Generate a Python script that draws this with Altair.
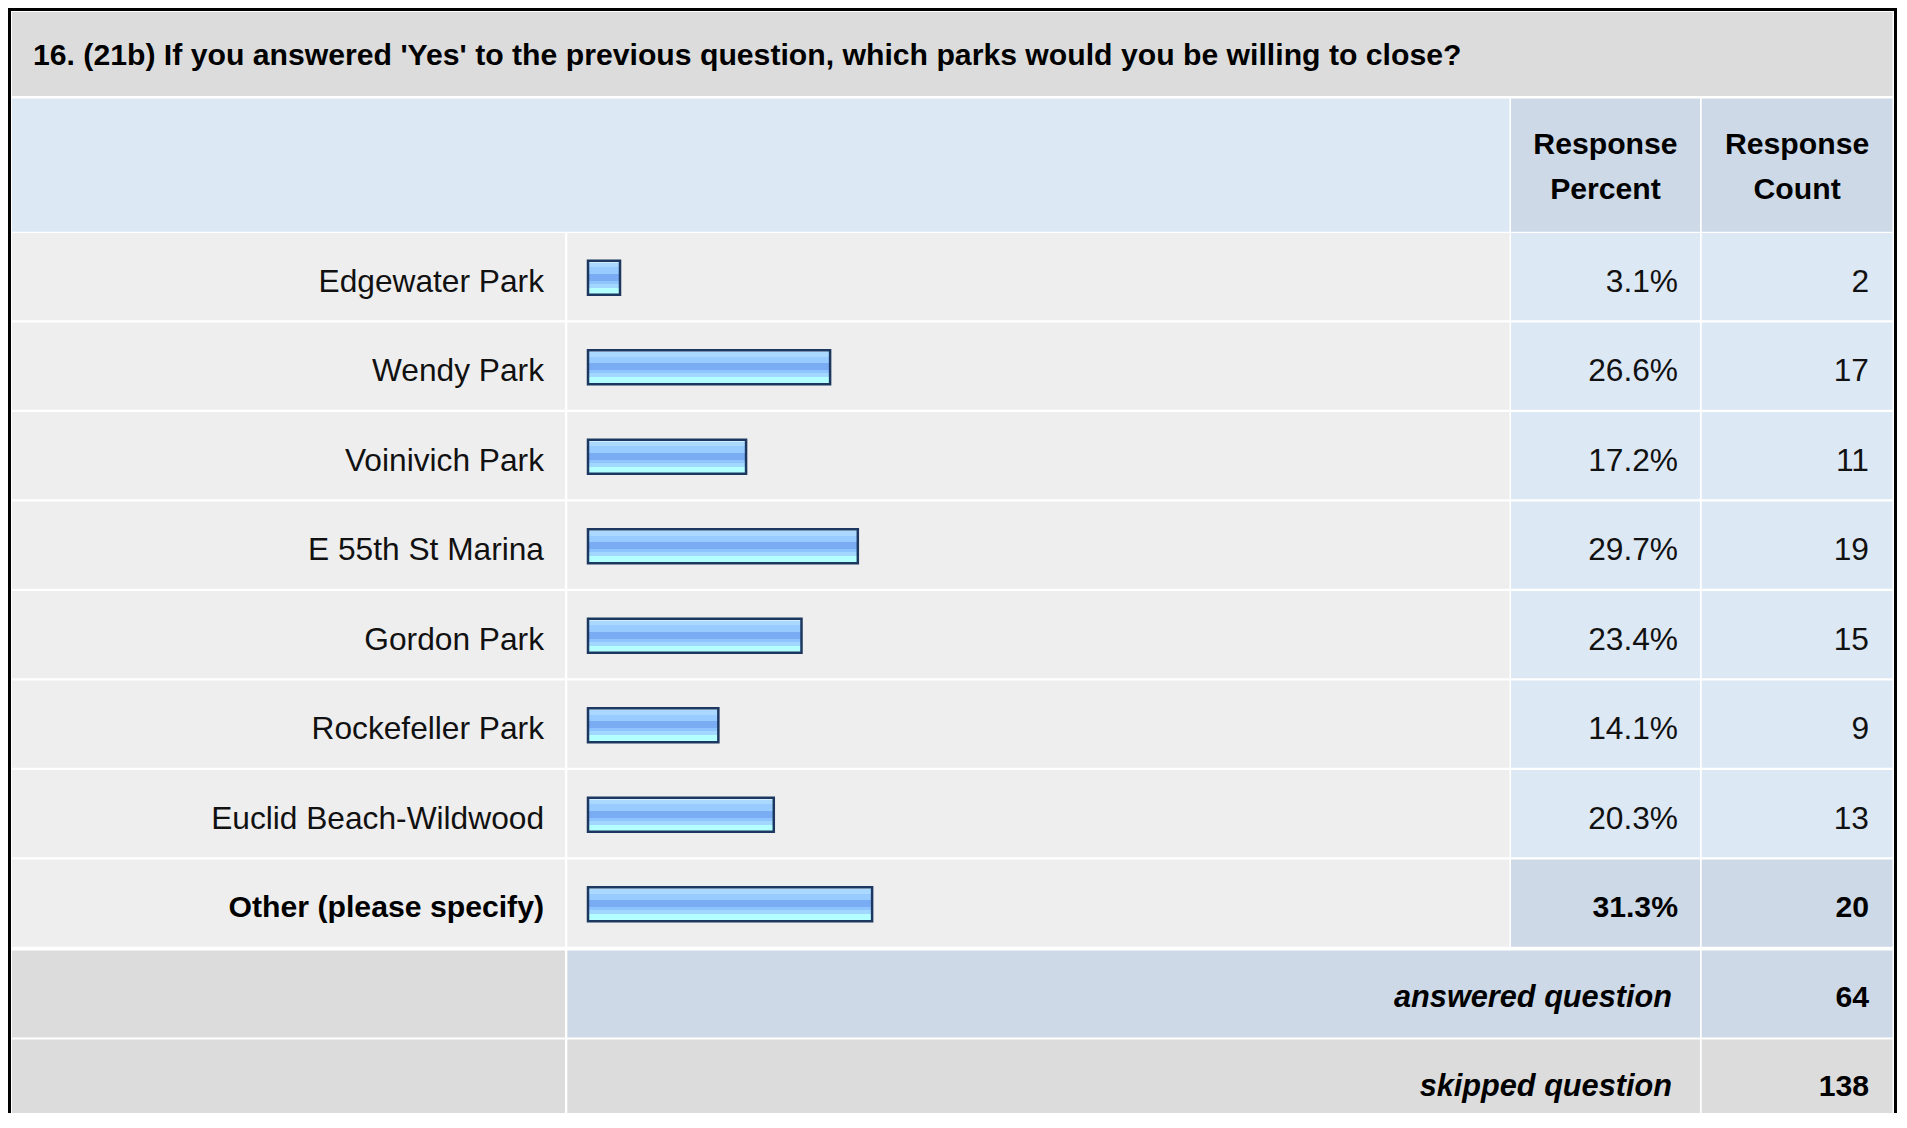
import altair as alt
import pandas as pd

# ---------------- data ----------------
TITLE = "16. (21b) If you answered 'Yes' to the previous question, which parks would you be willing to close?"
HEADERS = ["Response\nPercent", "Response\nCount"]
PARKS = [
    "Edgewater Park",
    "Wendy Park",
    "Voinivich Park",
    "E 55th St Marina",
    "Gordon Park",
    "Rockefeller Park",
    "Euclid Beach-Wildwood",
    "Other (please specify)",
]
PERCENTS = [3.1, 26.6, 17.2, 29.7, 23.4, 14.1, 20.3, 31.3]
COUNTS = [2, 17, 11, 19, 15, 9, 13, 20]
SUMMARY_LABELS = ["answered question", "skipped question"]
SUMMARY_VALUES = [64, 138]

# ---------------- layout (page pixels) ----------------
OFF = 8
W, H = 1889, 1105
FONT = "Liberation Sans, Arial, sans-serif"


def P(v):
    return v - OFF


COLS = [(12, 565), (567.3, 1509.5), (1511, 1700), (1701.7, 1892.5)]
TITLE_Y = (12, 96)
HEAD_Y = (98.5, 231.7)
ROW0, STEP, ROWH = 233, 89.5, 87.3
SUM0, SSTEP, SROWH = 950.5, 89, 87

GREY = "#dcdcdc"
LIGHT = "#eeeeee"
PALEBLUE = "#dde8f5"
MIDBLUE = "#cdd9e6"

REG = 31.7   # regular text size
BOLD = 30.2  # bold text size
TXT_DY = 4

cells = []


def add(x0, x1, y0, y1, c):
    cells.append({"x0": x0, "x1": x1, "y0": y0, "y1": y1, "fill": c})


add(8, 1897, 8, 1113, "#000000")
add(11, 1894, 11, 1113, "#ffffff")
add(COLS[0][0], COLS[3][1], TITLE_Y[0], TITLE_Y[1], GREY)
add(COLS[0][0], COLS[1][1], HEAD_Y[0], HEAD_Y[1], PALEBLUE)
add(COLS[2][0], COLS[2][1], HEAD_Y[0], HEAD_Y[1], MIDBLUE)
add(COLS[3][0], COLS[3][1], HEAD_Y[0], HEAD_Y[1], MIDBLUE)
for i in range(len(PARKS)):
    y0 = ROW0 + i * STEP
    y1 = y0 + ROWH
    last = i == len(PARKS) - 1
    add(COLS[0][0], COLS[0][1], y0, y1, LIGHT)
    add(COLS[1][0], COLS[1][1], y0, y1, LIGHT)
    add(COLS[2][0], COLS[2][1], y0, y1, MIDBLUE if last else PALEBLUE)
    add(COLS[3][0], COLS[3][1], y0, y1, MIDBLUE if last else PALEBLUE)
for j in range(len(SUMMARY_LABELS)):
    y0 = SUM0 + j * SSTEP
    y1 = y0 + SROWH if j == 0 else 1113
    c = MIDBLUE if j == 0 else GREY
    add(COLS[0][0], COLS[0][1], y0, y1, GREY)
    add(COLS[1][0], COLS[2][1], y0, y1, c)
    add(COLS[3][0], COLS[3][1], y0, y1, c)

cells_df = pd.DataFrame(cells)

xpage = alt.Scale(domain=[OFF, OFF + W], range=[0, W], nice=False, zero=False)
ypage = alt.Scale(domain=[OFF, OFF + H], range=[0, H], nice=False, zero=False)

cell_layer = alt.Chart(cells_df).mark_rect(strokeWidth=0).encode(
    x=alt.X("x0:Q", scale=xpage, axis=None),
    x2="x1:Q",
    y=alt.Y("y0:Q", scale=ypage, axis=None),
    y2="y1:Q",
    color=alt.Color("fill:N", scale=None, legend=None),
)

# title
title_layer = alt.Chart(pd.DataFrame({"t": [TITLE]})).mark_text(
    align="left", baseline="middle", fontSize=BOLD, fontWeight="bold", font=FONT, color="#000000"
).encode(x=alt.value(P(33)), y=alt.value(P(56)), text="t:N")

# headers (two lines each)
head_df = pd.DataFrame({"h": HEADERS, "cx": [(COLS[2][0] + COLS[2][1]) / 2, (COLS[3][0] + COLS[3][1]) / 2]})
head_layer = alt.Chart(head_df).mark_text(
    align="center", baseline="middle", fontSize=BOLD, fontWeight="bold", font=FONT,
    color="#000000", lineBreak="\n", lineHeight=45
).encode(
    x=alt.X("cx:Q", scale=xpage, axis=None),
    y=alt.value(P(145)),
    text="h:N",
)

# park rows
parks_df = pd.DataFrame({"park": PARKS, "pct": PERCENTS, "count": COUNTS})
yband = alt.Scale(domain=PARKS, range=[P(233), P(949)], paddingInner=0.62, paddingOuter=0.31)
Y = alt.Y("park:N", scale=yband, axis=None, sort=PARKS)

grad = alt.Gradient(
    gradient="linear",
    x1=0, x2=0, y1=0, y2=1,
    stops=[
        alt.GradientStop(color="#d2ecff", offset=0.0),
        alt.GradientStop(color="#d2ecff", offset=0.06),
        alt.GradientStop(color="#aad8ff", offset=0.06),
        alt.GradientStop(color="#aad8ff", offset=0.19),
        alt.GradientStop(color="#98cbff", offset=0.19),
        alt.GradientStop(color="#98cbff", offset=0.38),
        alt.GradientStop(color="#79acf2", offset=0.38),
        alt.GradientStop(color="#79acf2", offset=0.59),
        alt.GradientStop(color="#8ec4ff", offset=0.59),
        alt.GradientStop(color="#8ec4ff", offset=0.67),
        alt.GradientStop(color="#a2d8ff", offset=0.67),
        alt.GradientStop(color="#a2d8ff", offset=0.80),
        alt.GradientStop(color="#b4ffff", offset=0.80),
        alt.GradientStop(color="#b4ffff", offset=1.0),
    ],
)

bar_x = alt.Scale(domain=[0, 100], range=[P(592.3), P(592.3 + 894)], nice=False, zero=False)
bar_layer = alt.Chart(parks_df).mark_rect(
    fill=grad, stroke="#1d3860", strokeWidth=2.5
).encode(
    x=alt.X("pct:Q", scale=bar_x, axis=None),
    x2=alt.value(P(588)),
    y=Y,
)

label_normal = alt.Chart(parks_df).transform_filter(
    alt.datum.park != PARKS[-1]
).mark_text(
    align="right", baseline="middle", fontSize=REG, font=FONT, color="#111111", dy=TXT_DY
).encode(x=alt.value(P(544)), y=Y, text="park:N")

label_bold = alt.Chart(parks_df).transform_filter(
    alt.datum.park == PARKS[-1]
).mark_text(
    align="right", baseline="middle", fontSize=BOLD, fontWeight="bold", font=FONT, color="#000000", dy=TXT_DY
).encode(x=alt.value(P(544)), y=Y, text="park:N")

pct_base = alt.Chart(parks_df).transform_calculate(
    lbl="format(datum.pct, '.1f') + '%'"
)
pct_normal = pct_base.transform_filter(alt.datum.park != PARKS[-1]).mark_text(
    align="right", baseline="middle", fontSize=REG, font=FONT, color="#111111", dy=TXT_DY
).encode(x=alt.value(P(1678)), y=Y, text="lbl:N")
pct_bold = pct_base.transform_filter(alt.datum.park == PARKS[-1]).mark_text(
    align="right", baseline="middle", fontSize=BOLD, fontWeight="bold", font=FONT, color="#000000", dy=TXT_DY
).encode(x=alt.value(P(1678)), y=Y, text="lbl:N")

cnt_normal = alt.Chart(parks_df).transform_filter(alt.datum.park != PARKS[-1]).mark_text(
    align="right", baseline="middle", fontSize=REG, font=FONT, color="#111111", dy=TXT_DY
).encode(x=alt.value(P(1869)), y=Y, text="count:N")
cnt_bold = alt.Chart(parks_df).transform_filter(alt.datum.park == PARKS[-1]).mark_text(
    align="right", baseline="middle", fontSize=BOLD, fontWeight="bold", font=FONT, color="#000000", dy=TXT_DY
).encode(x=alt.value(P(1869)), y=Y, text="count:N")

# summary rows
sum_df = pd.DataFrame({"label": SUMMARY_LABELS, "value": SUMMARY_VALUES})
ysum = alt.Scale(domain=SUMMARY_LABELS, range=[P(SUM0), P(SUM0 + 2 * SSTEP)], paddingInner=0, paddingOuter=0)
YS = alt.Y("label:N", scale=ysum, axis=None, sort=SUMMARY_LABELS)
sum_label = alt.Chart(sum_df).mark_text(
    align="right", baseline="middle", fontSize=30.7, fontWeight="bold", fontStyle="italic",
    font=FONT, color="#000000", dy=3
).encode(x=alt.value(P(1672)), y=YS, text="label:N")
sum_value = alt.Chart(sum_df).mark_text(
    align="right", baseline="middle", fontSize=BOLD, fontWeight="bold", font=FONT, color="#000000", dy=3
).encode(x=alt.value(P(1869)), y=YS, text="value:N")

chart = alt.layer(
    cell_layer, title_layer, head_layer, bar_layer,
    label_normal, label_bold, pct_normal, pct_bold, cnt_normal, cnt_bold,
    sum_label, sum_value,
).resolve_scale(
    x="independent", y="independent"
).properties(
    width=W, height=H, padding=0, autosize=alt.AutoSizeParams(type="none")
).configure_view(strokeWidth=0)

chart.save("out.html", embed_options={"renderer": "svg", "actions": False})
